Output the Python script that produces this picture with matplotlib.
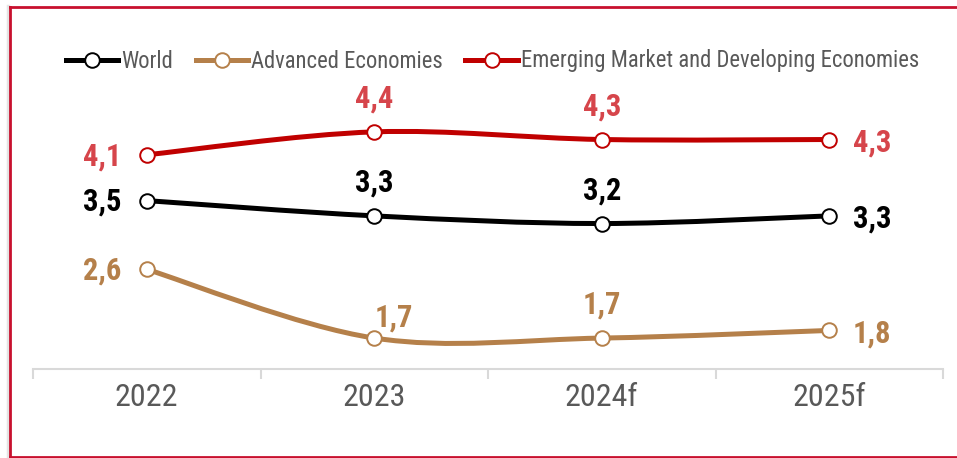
import matplotlib
matplotlib.use("Agg")
import numpy as np
import matplotlib.pyplot as plt
from matplotlib.path import Path
from matplotlib.patches import PathPatch
from matplotlib.lines import Line2D

############################################
# DATA
############################################

years = ["2022", "2023", "2024f", "2025f"]
world = [3.5, 3.3, 3.2, 3.3]
advanced = [2.6, 1.7, 1.7, 1.8]
emerging = [4.1, 4.4, 4.3, 4.3]
series_names = ["World", "Advanced Economies", "Emerging Market and Developing Economies"]

############################################
# STYLE
############################################

plt.rcParams['font.family'] = ['Roboto Condensed', 'DejaVu Sans']

LINE_COLORS = ["#000000", "#B5804A", "#C00000"]
LABEL_COLORS = ["#000000", "#B5804A", "#D6454B"]
GREY_TEXT = "#595959"
AXIS_GREY = "#D9D9D9"
BORDER_RED = "#C8102E"

W, H = 957, 458


def smooth_path(xs, ys):
    # excel-like smoothed line: cubic bezier segments (catmull-rom control points)
    pts = np.column_stack([xs, ys]).astype(float)
    n = len(pts)
    verts = [pts[0]]
    codes = [Path.MOVETO]
    for i in range(n - 1):
        p0 = pts[max(i - 1, 0)]
        p1 = pts[i]
        p2 = pts[i + 1]
        p3 = pts[min(i + 2, n - 1)]
        c1 = p1 + (p2 - p0) / 6.0
        c2 = p2 - (p3 - p1) / 6.0
        verts += [c1, c2, p2]
        codes += [Path.CURVE4] * 3
    return Path(verts, codes)


def fmt(v):
    return f"{v:.1f}".replace(".", ",")


############################################
# FIGURE
############################################

fig = plt.figure(figsize=(W / 100, H / 100), dpi=100)

# axes placed in pixel terms
ax_left, ax_right = 33, 943
ax_bottom, ax_top = 369, 40   # pixels from top
ax = fig.add_axes([ax_left / W, (H - ax_bottom) / H,
                   (ax_right - ax_left) / W, (ax_bottom - ax_top) / H])
ax.set_xlim(-0.5, 3.5)
ax.set_ylim(1.295, 5.603)

x = np.arange(len(years))
all_series = [world, advanced, emerging]

for vals, lc in zip(all_series, LINE_COLORS):
    patch = PathPatch(smooth_path(x, vals), facecolor="none", edgecolor=lc,
                      lw=3.6, capstyle="round", zorder=2)
    ax.add_patch(patch)
    ax.plot(x, vals, ls="none", marker="o", ms=10.5, mfc="white",
            mec=lc, mew=1.4, zorder=3)

# data labels
special = {(1, 1): (14, 15)}
for si, (vals, col) in enumerate(zip(all_series, LABEL_COLORS)):
    for i, v in enumerate(vals):
        if i == 0:
            off, ha = (-18, -1), "right"
        elif i == len(vals) - 1:
            off, ha = (17, -2), "left"
        else:
            off, ha = (0, 24), "center"
        if (si, i) in special:
            off = special[(si, i)]
        ax.annotate(fmt(v), (x[i], v), xytext=off, textcoords="offset points",
                    ha=ha, va="center", fontsize=22, fontweight="bold",
                    color=col, zorder=4)

# axis styling
for s in ["left", "right", "top"]:
    ax.spines[s].set_visible(False)
ax.spines["bottom"].set_color(AXIS_GREY)
ax.spines["bottom"].set_linewidth(1.5)
ax.set_yticks([])
ax.set_xticks(np.arange(-0.5, 4.0, 1.0))
ax.set_xticklabels([])
ax.tick_params(axis="x", which="major", direction="out", length=7,
               width=1.5, color=AXIS_GREY)
ax.set_xticks(x, minor=True)
ax.set_xticklabels(years, minor=True)
ax.tick_params(axis="x", which="minor", length=0, pad=10,
               labelsize=23, labelcolor=GREY_TEXT)

# legend
handles = [Line2D([], [], color=lc, lw=3.6, marker="o", ms=10.5, mfc="white",
                  mec=lc, mew=1.4) for lc in LINE_COLORS]
fig.legend(handles, series_names, loc="center", bbox_to_anchor=(0.5146, (H - 61) / H),
           ncol=3, frameon=False, fontsize=16.3, labelcolor=GREY_TEXT,
           handlelength=2.3, handletextpad=0.15, columnspacing=1.0)

# frame border (red, open to the right)
fig.add_artist(Line2D([8 / W, 8 / W], [0, (H - 6) / H], color="#E4E4E4", lw=2.5))
fig.add_artist(Line2D([10 / W, 10 / W], [1 / H, (H - 7) / H], color=BORDER_RED, lw=2))
fig.add_artist(Line2D([10 / W, 1.0], [(H - 7) / H, (H - 7) / H], color=BORDER_RED, lw=2))
fig.add_artist(Line2D([10 / W, 1.0], [1 / H, 1 / H], color=BORDER_RED, lw=2))

fig.savefig("out.png", dpi=100)
